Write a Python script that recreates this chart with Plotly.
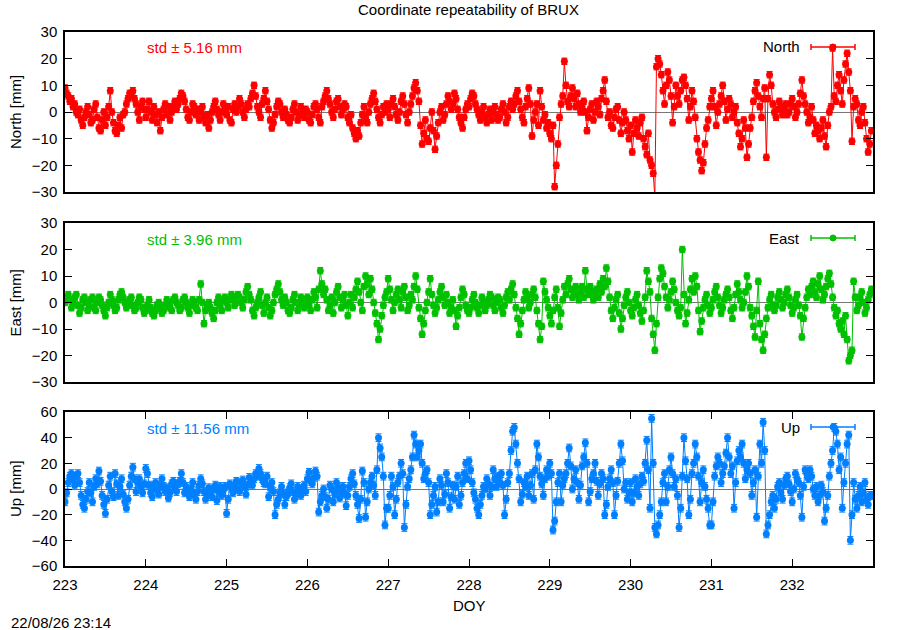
import plotly.graph_objects as go

# epochs: one value every 0.02 day starting DOY 223
doy_start = 223.0
epoch_step = 0.02

north_mm = [
    # 223
    9, 7, 6, 4, 5, 2, 3, 0, -1, 1, -3, -5, -2, 0, 2, -1, -4, -3, 1, 3,
    -2, -6, -7, -3, 0, -5, -2, 2, 8, 0, -4, -7, -8, -5, -2, -6, -1, 0, 3, 5,
    7, 6, 8, 5, 3, 0, -3, 2, 4, 1,
    # 224
    -2, 1, 4, 0, -3, 2, -1, -4, 0, -7, -2, 1, 3, -1, 2, -3, 0, 2, 4, 1,
    3, 5, 7, 6, 4, 1, -2, -3, 0, 3, 2, -1, 1, -3, 0, 2, -2, -4, -1, -6,
    -3, 0, 2, 4, 1, -1, -3, 0, 3, 1,
    # 225
    -1, 2, -3, -4, 1, 3, 0, 2, 5, 3, 0, -2, 1, 3, 2, 5, 7, 10, 6, 2,
    0, -2, 3, 5, 8, 4, 1, -3, -6, -4, -1, 2, 4, 3, 0, -2, 1, -1, -3, -4,
    -2, 1, 3, 0, -3, -1, 2, 0, -2, 1,
    # 226
    0, -3, -4, -1, 2, 3, 1, -2, -4, 2, 4, 6, 8, 5, 3, 0, -2, 1, 4, 5,
    2, -1, 1, 3, 2, -2, -4, -1, -6, -8, -10, -7, -9, -4, -1, 2, -2, -4, 0, 3,
    5, 7, 4, 1, -2, -4, -1, 2, 0, 3,
    # 227
    1, -2, 3, 5, 2, -1, -3, 0, 4, 6, 3, -1, -4, 0, 3, 6, 9, 11, 8, 4,
    -5, -12, -8, -3, -10, -11, -6, 0, -7, -14, -9, -4, 0, 2, -3, -1, 3, 6, 4, 1,
    3, 7, 5, 1, -2, -4, -6, -2, 1, 3,
    # 228
    2, 5, 7, 6, 3, 1, -1, -3, 0, 2, -2, -4, -1, 1, -3, 0, 2, -1, -3, -2,
    1, 3, 0, -4, -2, 2, 4, 1, 3, 6, 8, 4, 1, -2, -4, 2, 5, 9, 3, -9,
    -3, 0, 3, -5, 8, 2, -3, -1, -6, -4,
    # 229
    -8, -10, -5, -28, -20, -12, -2, 3, 6, 19, 10, 4, 2, 6, 9, 5, 2, 7, 3, 0,
    2, 4, 0, -7, -2, 1, 3, -3, 0, 4, 2, -1, 5, 8, 12, 4, -2, 0, -5, -6,
    -2, 1, 2, -3, -8, -4, 0, -3, -7, -10,
    # 230
    -5, -15, -8, -3, -6, -9, -4, -2, -10, -13, -16, -8, -18, -20, -23, -32, 17, 20, 18, 14,
    8, 3, 10, 15, 12, 6, -4, 2, 10, 6, 3, 8, 12, 13, 10, 5, -3, 2, 8, 4,
    -2, -10, -15, -18, -22, -19, -12, -6, -3, 2,
    # 231
    5, 8, 2, -5, 0, 3, 6, 10, 4, -3, 1, 5, 3, -2, 0, 2, -4, -8, -13, -10,
    -3, -6, -17, -12, -6, -2, 4, 8, 11, 6, 2, -2, 5, 9, -17, 5, 14, 10, 3, 0,
    -2, 1, 4, 2, -1, 1, 3, -1, 0, 3,
    # 232
    5, 2, -2, 0, 3, 7, 12, 6, 3, 0, -4, -2, 2, -3, -8, -5, -7, -10, -6, -3,
    -9, -13, -5, 0, 2, 24, 6, 4, 10, 14, 8, 3, 12, 18, 22, 15, 8, -11, 2, 5,
    3, -3, -5, 0, 2, -4, -10, -15, -12, -7,
]

east_mm = [
    # 223
    0, 2, 3, 1, -2, 0, 2, 3, -1, -4, -2, 1, 2, 0, -3, -1, 1, 2, -2, -3,
    0, 2, 1, -1, -3, -5, -2, 0, 3, 1, -1, -3, -2, 1, 3, 4, 2, 0, -2, -1,
    1, 2, -1, -3, -2, 0, 2, 1, -2, -4,
    # 224
    -3, -1, 1, -2, -4, -5, -3, -1, 0, -2, -4, -3, -1, 1, 0, -2, -3, 1, 2, 0,
    -1, -3, -2, 1, 2, 0, -2, -4, -1, 1, 0, -2, -3, 1, 7, 0, -8, -3, -1, 0,
    -2, -4, -6, -3, 0, 2, -1, -3, 1, 2,
    # 225
    0, -2, 1, 3, 2, -1, 1, 3, 2, 0, -2, 1, 4, 6, 3, 1, -3, -5, -2, 0,
    2, 4, -1, -4, 0, 2, -2, -5, -3, 0, 3, 5, 7, 4, 1, -1, 2, 0, -3, -4,
    -2, 1, 3, 0, -3, -1, 2, 1, -2, 0,
    # 226
    2, -1, -3, 1, 4, 2, -2, 5, 12, 7, 3, 5, 1, -3, -1, 2, -4, 0, 4, 6,
    2, -2, 1, 3, -1, -5, 0, 3, -2, 2, 5, 8, 4, 0, -3, 6, 10, 7, 3, 9,
    5, 0, -4, -8, -14, -10, -5, -1, 2, 4,
    # 227
    9, 5, 1, -3, 0, 3, 5, 1, -2, 4, 6, 2, -3, -1, 3, 1, 6, 10, 5, -2,
    -6, -12, -8, -3, 0, 4, 9, 3, -1, -4, -2, 1, 4, 6, 2, -1, 3, 0, -4, -2,
    1, -3, -9, -5, -2, 2, 5, 3, -1, -3,
    # 228
    -4, -2, 1, 3, 0, -2, -4, -1, 2, 0, -3, -1, 1, 3, 2, -1, -3, 0, 2, 1,
    -2, -4, -1, 2, 4, 1, 5, 7, 3, -2, -6, -12, -8, -3, 1, 4, 2, -2, 0, 3,
    5, 2, -3, -8, -14, -9, 8, 4, 1, -2,
    # 229
    -5, -8, -3, 2, 5, -2, -9, -4, 1, 6, 3, 7, 9, 5, 2, 4, 6, 3, 1, 4,
    6, 2, 12, 5, 3, 6, 4, 1, 3, 5, 2, 7, 4, 9, 6, 13, 8, 2, -3, -6,
    -2, 1, 3, -4, -10, -6, -1, 2, 4, 0,
    # 230
    -3, -5, -2, 1, 3, -1, -4, -7, -3, 2, 12, 8, 4, -6, -12, -18, -8, 2, 9, 13,
    11, 6, 2, -2, 1, 4, 8, 5, 0, -3, -5, -2, 20, 3, -8, -4, 1, 5, 9, 4,
    10, 6, -3, -11, -7, -2, 1, 3, -1, -4,
    # 231
    -2, 1, 4, 6, 2, -1, -4, -2, 1, 3, 5, 2, -3, -6, -2, 3, 7, 4, 1, -2,
    0, 4, 10, 6, -2, -5, -9, -13, -3, 8, -8, -14, -18, -12, -6, -2, 1, 3, -1, -3,
    -1, 2, 4, 1, -2, 0, 3, 5, 2, -1,
    # 232
    -4, -2, 1, 3, -1, -5, -13, -6, -2, 2, 5, 3, 6, 8, 4, 2, 7, 10, 5, 1,
    3, 6, 9, 11, 7, 2, -2, -5, -3, -8, -10, -7, -12, -5, -14, -22, -20, -18, 8, 2,
    -3, -1, 2, 4, 0, -4, -2, 1, 3, 5,
]

up_mm = [
    # 223
    -10, -3, 5, 10, 12, 8, 3, 10, 12, 5, -5, -12, -15, -8, -2, 5, -3, -10, 2, 8,
    4, 14, 6, -5, -12, -19, -8, 3, 10, -2, -6, 12, 4, -5, 2, 8, -4, -10, -15, -8,
    3, 10, 17, 8, -2, 5, 8, 2, -3, 4,
    # 224
    16, 12, 3, -3, -6, 2, 5, -1, -4, 3, 8, 2, -2, 1, -7, -3, 4, 6, 1, -2,
    4, 6, 12, 5, -3, 2, -2, -6, 0, 5, -4, -8, -2, 3, 8, 4, -2, -8, -4, 1,
    -3, -6, 0, 3, -9, -2, 2, -5, -1, 2,
    # 225
    -19, -8, 4, 1, -3, 2, 6, 0, -2, 5, 7, 2, -4, 3, 9, 5, 3, 8, 12, 10,
    16, 12, 8, 5, 4, 10, -6, 2, 5, -2, -20, -12, -8, -3, 2, -4, -12, -6, -3, 1,
    4, -2, -8, -4, 2, -1, -5, 0, 3, -2,
    # 226
    8, 13, 6, 4, 9, 14, 10, -18, -10, -5, 0, -6, -15, -8, 3, 0, -10, -4, 5, 1,
    -7, -2, 2, -4, -13, -5, 2, 8, 12, 4, -5, -12, -23, -8, 14, 5, -22, -10, 0, 5,
    10, 3, -5, 15, 40, 32, 25, 10, -28, -15,
    # 227
    -15, -5, 10, 2, -20, -8, 5, 10, 20, 12, -30, -12, 2, 8, 15, 25, 42, 35, 25, 30,
    35, 20, 8, 12, 15, 5, -20, -12, -5, 2, -18, -10, 8, 3, -10, -4, 12, 5, -15, -6,
    3, -8, 2, 10, -12, -5, 5, 12, 20, 8,
    # 228
    22, 15, 5, -3, -8, -15, -20, -12, -5, 2, 0, 8, 4, -5, 2, 15, 8, 2, 10, 5,
    12, 3, -20, -8, 5, 12, 30, 45, 48, 35, 20, 8, -10, -4, 5, 2, 10, -5, 3, 12,
    -8, 15, 35, 25, 10, 4, -5, 8, 15, 10,
    # 229
    20, 12, -32, -25, -10, 5, 12, -10, 3, 8, 12, 20, 32, 18, 0, 8, 15, 5, -8, 3,
    18, 25, 36, 20, -10, -2, 8, 12, 20, 6, -5, 4, 12, 8, -20, -12, 2, 8, 15, 5,
    -20, -5, 6, 20, 35, 22, 0, 5, -8, -3,
    # 230
    5, -10, -3, 8, 2, -5, 4, 10, 6, 20, 38, 15, -15, 55, 20, -30, -35, -28, -20, -10,
    5, 12, -10, 2, 15, 25, 12, 2, 8, -5, -30, -15, 10, 40, 22, 8, -20, -8, 12, 20,
    35, 25, 10, -10, 5, 15, 2, -8, -15, -28,
    # 231
    -28, -10, 10, 18, 25, 20, 5, 12, 18, 28, 40, 25, 12, 18, -15, 5, 22, 30, 25, 35,
    20, 8, 15, 20, 12, -5, 5, 15, -22, 10, 35, 20, 52, 30, -35, -28, -20, -10, -5, -15,
    -8, 2, 5, -3, -8, 3, 8, 10, 4, -2,
    # 232
    -10, 0, 12, 8, 5, -5, -22, 2, 15, 12, 8, 15, 10, 0, -5, 2, -10, -5, 3, -2,
    -25, -15, -5, 10, 20, 30, 48, 45, 35, 15, 25, -15, 5, 20, 35, 42, -40, -20, 5, -8,
    -15, -5, 2, -10, -3, 5, -8, -12, -5, -5,
]

x_ticks = [223, 224, 225, 226, 227, 228, 229, 230, 231, 232]

# name, values, colour, std text, y range, y tick step, error bar
panels = [
    ("North", north_mm, "#ff0000", "5.16", [-30, 30], 10, 1.2),
    ("East", east_mm, "#00c000", "3.96", [-30, 30], 10, 1.2),
    ("Up", up_mm, "#0080ff", "11.56", [-60, 60], 20, 3.0),
]

W, H = 900, 630
# plot boxes in pixels (top, bottom)
boxes = [(32, 192), (223, 382), (412, 566)]
left_px, right_px = 65, 873
FONT = "Liberation Sans, Arial, sans-serif"
FS = 15


def px(x):
    return x / W


def py(y):
    return 1 - y / H


def label(x, y, text, color="black", anchor="center", angle=0):
    return dict(x=px(x), y=py(y), xref="paper", yref="paper", showarrow=False,
                xanchor=anchor, yanchor="middle", text=text, textangle=angle,
                font=dict(family=FONT, size=FS, color=color))


fig = go.Figure()
shapes = []
annotations = []

for k, (name, vals, col, std, yr, step, err) in enumerate(panels):
    n = k + 1
    xa = "x" if n == 1 else "x%d" % n
    ya = "y" if n == 1 else "y%d" % n
    doy = [doy_start + epoch_step * i for i in range(len(vals))]
    fig.add_trace(go.Scatter(
        x=doy, y=vals, mode="lines+markers", xaxis=xa, yaxis=ya,
        line=dict(color=col, width=1),
        marker=dict(color=col, size=7, symbol="circle"),
        error_y=dict(type="constant", value=err, color=col, thickness=1, width=3),
        showlegend=False, name=name,
    ))

    top, bot = boxes[k]
    axis_x = dict(
        domain=[px(left_px), px(right_px)], range=[223, 233],
        showline=True, linecolor="black", linewidth=1.5, mirror=True,
        showgrid=False, zeroline=False, anchor=ya, automargin=False,
        tickvals=x_ticks, ticks="inside" if n == 3 else "", ticklen=7,
        tickcolor="black", showticklabels=(n == 3), ticklabelstandoff=4,
        tickfont=dict(family=FONT, size=FS, color="black"),
    )
    if n == 3:
        axis_x["mirror"] = "ticks"
    axis_y = dict(
        domain=[py(bot), py(top)], range=yr, anchor=xa, automargin=False,
        showline=True, linecolor="black", linewidth=1.5, mirror="ticks",
        showgrid=False, zeroline=True, zerolinecolor="#777", zerolinewidth=1,
        tickvals=list(range(yr[0], yr[1] + 1, step)), ticks="inside", ticklen=7,
        tickcolor="black", ticklabelstandoff=3,
        tickfont=dict(family=FONT, size=FS, color="black"),
    )
    fig.layout["xaxis" if n == 1 else "xaxis%d" % n] = axis_x
    fig.layout["yaxis" if n == 1 else "yaxis%d" % n] = axis_y

    # y title, std label, legend entry
    annotations.append(label(15, (top + bot) / 2, "%s [mm]" % name, angle=-90))
    annotations.append(label(145, top + 16, "std \u00b1 %s mm" % std, color=col, anchor="left"))
    ly = top + 15
    annotations.append(label(802, ly, name, anchor="right"))
    shapes.append(dict(type="line", xref="paper", yref="paper",
                       x0=px(811), x1=px(855), y0=py(ly), y1=py(ly),
                       line=dict(color=col, width=1.5)))
    for cx in (811, 855):
        shapes.append(dict(type="line", xref="paper", yref="paper",
                           x0=px(cx), x1=px(cx), y0=py(ly - 3), y1=py(ly + 3),
                           line=dict(color=col, width=1.5)))
    shapes.append(dict(type="circle", xref="paper", yref="paper",
                       x0=px(830), x1=px(836), y0=py(ly + 3), y1=py(ly - 3),
                       fillcolor=col, line=dict(color=col, width=1)))

annotations.append(label(468, 10, "Coordinate repeatability of BRUX"))
annotations.append(label(469, 605, "DOY"))
annotations.append(label(9, 622, "22/08/26 23:14", anchor="left"))

fig.update_layout(
    width=W, height=H, autosize=False,
    margin=dict(l=0, r=0, t=0, b=0, pad=0, autoexpand=False),
    paper_bgcolor="white", plot_bgcolor="white",
    shapes=shapes, annotations=annotations,
    font=dict(family=FONT, size=FS, color="black"),
)

# drop the default body margin so the 900x630 figure fills the window
fig.write_html(
    "out.html",
    config={"displayModeBar": False},
    post_script="document.body.style.margin='0';document.body.style.overflow='hidden';",
)
